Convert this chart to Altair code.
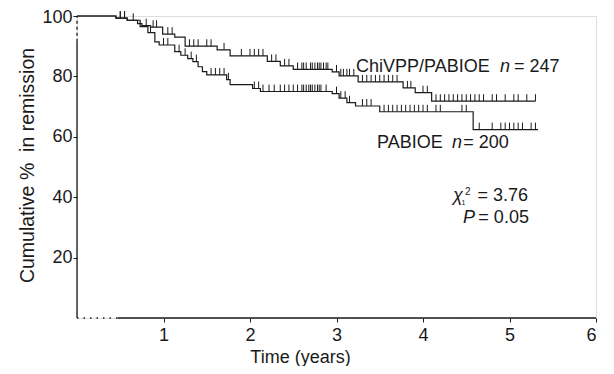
import altair as alt
import pandas as pd

# ---- data ----
chivpp_times = [0, 0.45, 0.58, 0.70, 0.75, 0.85, 0.99, 1.13, 1.25, 1.62, 1.77, 2.20, 2.35, 2.50,
                2.95, 3.03, 3.25, 3.77, 3.91, 4.10, 5.30]
chivpp_surv = [100, 99.3, 98.6, 97.5, 96.8, 96.3, 94.0, 93.0, 90.0, 88.8, 86.8, 85.0, 83.5, 82.3,
               81.5, 80.2, 78.2, 76.2, 74.6, 71.8, 71.8]

pabioe_times = [0, 0.45, 0.58, 0.73, 0.82, 0.90, 0.95, 1.13, 1.20, 1.28, 1.34, 1.40, 1.45, 1.50,
                1.73, 1.77, 2.03, 2.12, 2.95, 3.03, 3.12, 3.22, 3.50, 4.58, 5.33]
pabioe_surv = [100, 99.3, 98.6, 96.5, 94.5, 91.4, 90.4, 88.2, 87.0, 85.9, 84.9, 83.2, 81.6, 80.5,
               78.9, 77.3, 76.0, 75.0, 74.3, 72.8, 71.3, 70.2, 68.3, 62.4, 62.4]

chivpp_censor = [0.50, 0.55, 0.65, 0.80, 0.88, 0.92, 1.05, 1.10, 1.30, 1.35, 1.40, 1.50, 1.55, 1.70,
                 1.90, 2.00, 2.05, 2.10, 2.15, 2.25, 2.30, 2.40, 2.45, 2.55, 2.60, 2.62, 2.65, 2.70,
                 2.72, 2.75, 2.78, 2.80, 2.82, 2.85, 2.88, 2.90, 3.00, 3.05, 3.08, 3.12, 3.15, 3.20,
                 3.30, 3.35, 3.40, 3.45, 3.50, 3.55, 3.60, 3.65, 3.70, 3.82, 3.86, 4.00, 4.05, 4.15,
                 4.20, 4.25, 4.30, 4.35, 4.40, 4.45, 4.50, 4.55, 4.60, 4.65, 4.70, 4.80, 4.85, 4.95,
                 5.05, 5.10, 5.20, 5.30]
pabioe_censor = [0.50, 0.55, 0.85, 1.00, 1.05, 1.18, 1.25, 1.32, 1.38, 1.55, 1.60, 1.65, 1.70, 1.75,
                 2.05, 2.10, 2.15, 2.22, 2.28, 2.35, 2.40, 2.45, 2.50, 2.55, 2.60, 2.62, 2.65, 2.68,
                 2.70, 2.72, 2.75, 2.78, 2.80, 2.82, 2.88, 3.00, 3.05, 3.10, 3.15, 3.30, 3.35, 3.40,
                 3.55, 3.60, 3.65, 3.70, 3.75, 3.80, 3.85, 3.90, 3.95, 4.00, 4.05, 4.15, 4.20, 4.45,
                 4.50, 4.65, 4.80, 4.90, 4.95, 5.00, 5.05, 5.10, 5.15, 5.25, 5.30]

x_ticks = [1, 2, 3, 4, 5, 6]
y_ticks = [20, 40, 60, 80, 100]

# annotation texts (text, x, y, italic, size)
annotations = [
    ("ChiVPP/PABIOE", 3.225, 81.6, False, 18),
    ("n", 4.890, 81.6, True, 18),
    ("= 247", 5.052, 81.6, False, 18),
    ("PABIOE", 3.468, 56.3, False, 18),
    ("n", 4.335, 56.3, True, 18),
    ("= 200", 4.465, 56.3, False, 18),
    ("χ", 4.347, 38.8, True, 18),
    ("1", 4.445, 37.3, False, 7),
    ("2", 4.486, 40.6, False, 10),
    ("= 3.76", 4.630, 38.8, False, 18),
    ("P", 4.462, 31.6, True, 18),
    ("= 0.05", 4.640, 31.6, False, 18),
]

# axis line pieces (x, x2, y, y2, dash)
axis_pieces = [
    (0, 0.47, 0, 0, "dot"),
    (0.47, 6, 0, 0, "solid"),
    (0, 0, 0, 91.5, "solid"),
    (0, 0, 91.5, 100, "dash"),
]

FONT = "Liberation Sans"
INK = "#1a1a1a"


def step_value(times, vals, t):
    v = vals[0]
    for tt, vv in zip(times, vals):
        if tt <= t:
            v = vv
    return v


curves = pd.concat([
    pd.DataFrame({"t": chivpp_times, "s": chivpp_surv, "g": "ChiVPP/PABIOE"}),
    pd.DataFrame({"t": pabioe_times, "s": pabioe_surv, "g": "PABIOE"}),
])
censor = pd.concat([
    pd.DataFrame({"t": chivpp_censor,
                  "s": [step_value(chivpp_times, chivpp_surv, t) for t in chivpp_censor],
                  "g": "ChiVPP/PABIOE"}),
    pd.DataFrame({"t": pabioe_censor,
                  "s": [step_value(pabioe_times, pabioe_surv, t) for t in pabioe_censor],
                  "g": "PABIOE"}),
])
ann = pd.DataFrame(annotations, columns=["text", "x", "y", "italic", "size"])
axes_df = pd.DataFrame(axis_pieces, columns=["x", "x2", "y", "y2", "dash"])

xs = alt.Scale(domain=[0, 6], nice=False, zero=False)
ys = alt.Scale(domain=[0, 100], nice=False)

x_axis = alt.Axis(values=x_ticks, format="d", title="Time (years)", domain=False, grid=False,
                  tickSize=4, tickColor=INK, labelPadding=4, labelFontSize=18, labelFont=FONT,
                  labelColor=INK, titleFont=FONT, titleFontSize=18, titleFontWeight="normal",
                  titleColor=INK, titleX=223, titleY=44, titleAlign="center",
                  titleBaseline="alphabetic")
y_axis = alt.Axis(values=y_ticks, format="d", title="Cumulative %\u00a0 in remission",
                  domain=False, grid=False,
                  tickSize=4, tickColor=INK, labelPadding=1, labelFontSize=18, labelFont=FONT,
                  labelColor=INK,
                  labelOffset={"condition": {"test": "datum.value == 100", "value": 1}, "value": 0},
                  titleFont=FONT, titleFontSize=19.5, titleFontWeight="normal",
                  titleColor=INK, titleX=-44, titleY=149, titleAlign="center",
                  titleBaseline="alphabetic", titleAngle=270)

base_axes = alt.Chart(axes_df).mark_rule(color=INK, strokeWidth=1.3).encode(
    x=alt.X("x:Q", scale=xs, axis=x_axis),
    x2="x2:Q",
    y=alt.Y("y:Q", scale=ys, axis=y_axis),
    y2="y2:Q",
    strokeDash=alt.StrokeDash("dash:N", legend=None,
                              scale=alt.Scale(domain=["solid", "dot", "dash"],
                                              range=[[1, 0], [1.5, 5], [3, 3]])),
)

lines = alt.Chart(curves).mark_line(interpolate="step-after", color=INK, strokeWidth=1.2).encode(
    x=alt.X("t:Q", scale=xs),
    y=alt.Y("s:Q", scale=ys),
    detail="g:N",
    order="t:Q",
)

ticks = alt.Chart(censor).transform_calculate(s2="datum.s + 2.3").mark_rule(
    color=INK, strokeWidth=1).encode(
    x=alt.X("t:Q", scale=xs),
    y=alt.Y("s:Q", scale=ys),
    y2="s2:Q",
)

texts = []
for italic in (False, True):
    for size in sorted(ann["size"].unique()):
        sub = ann[(ann["italic"] == italic) & (ann["size"] == size)]
        if len(sub) == 0:
            continue
        texts.append(
            alt.Chart(sub).mark_text(align="left", baseline="alphabetic", font=FONT,
                                     fontSize=float(size), fontStyle="italic" if italic else "normal",
                                     fontWeight="normal", color=INK).encode(
                x=alt.X("x:Q", scale=xs),
                y=alt.Y("y:Q", scale=ys),
                text="text:N",
            )
        )

chart = alt.layer(base_axes, lines, ticks, *texts).properties(
    width=519, height=302,
    autosize=alt.AutoSizeParams(type="none"),
    padding={"left": 69, "top": 8, "right": 10, "bottom": 48},
).configure_view(stroke=None).configure_axis(titleFontWeight="normal").configure(background="white")

chart.save("out.html", embed_options={"renderer": "svg", "actions": False})
